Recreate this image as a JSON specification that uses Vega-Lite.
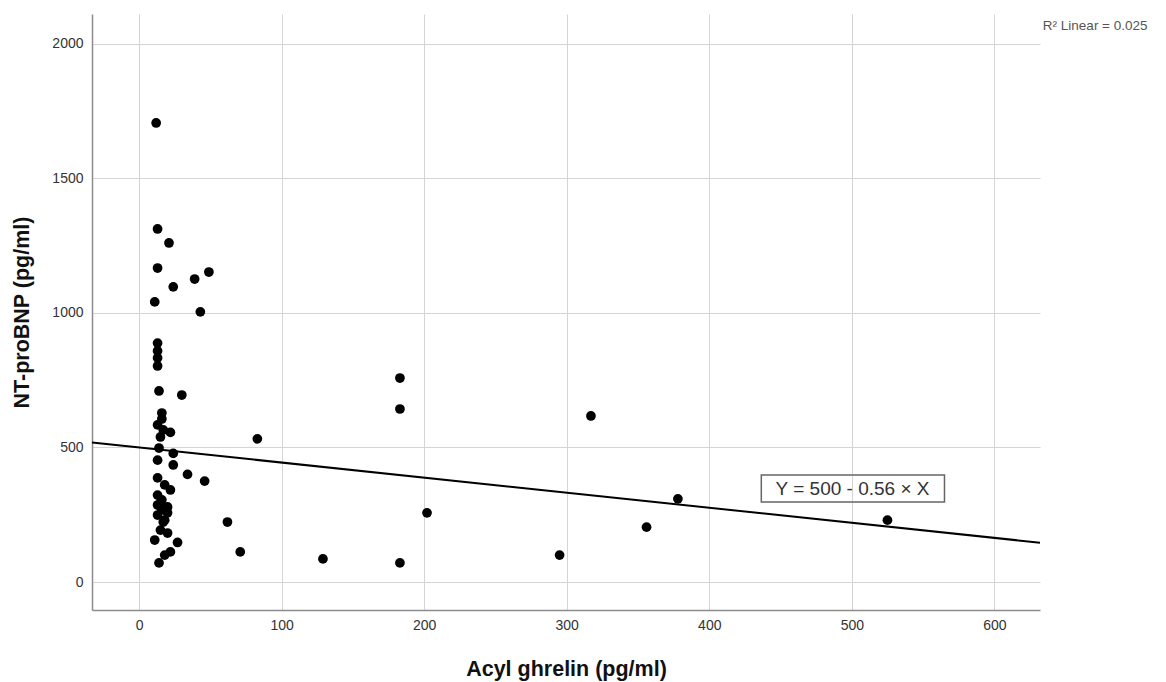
{
  "$schema": "https://vega.github.io/schema/vega-lite/v6.json",
  "width": 948,
  "height": 596,
  "autosize": {"type": "none"},
  "padding": {"left": 92, "top": 14, "right": 126, "bottom": 72},
  "background": "white",
  "config": {
    "view": {"stroke": null},
    "font": "Liberation Sans",
    "axis": {
      "gridColor": "#d4d4d4",
      "gridWidth": 1,
      "domainColor": "#8c8c8c",
      "domainWidth": 1.5,
      "ticks": false,
      "labelFont": "Liberation Sans",
      "labelFontSize": 14,
      "labelColor": "#333333",
      "titleFont": "Liberation Sans",
      "titleFontSize": 21.5,
      "titleFontWeight": "bold",
      "titleColor": "#111111"
    }
  },
  "datasets": {
    "pts": [
      {"ghrelin": 12, "ntprobnp": 1706},
      {"ghrelin": 13, "ntprobnp": 1312},
      {"ghrelin": 21, "ntprobnp": 1260},
      {"ghrelin": 13, "ntprobnp": 1167},
      {"ghrelin": 24, "ntprobnp": 1097},
      {"ghrelin": 11, "ntprobnp": 1041},
      {"ghrelin": 39, "ntprobnp": 1126},
      {"ghrelin": 49, "ntprobnp": 1152},
      {"ghrelin": 43, "ntprobnp": 1004},
      {"ghrelin": 13, "ntprobnp": 888},
      {"ghrelin": 13, "ntprobnp": 859},
      {"ghrelin": 13, "ntprobnp": 833},
      {"ghrelin": 13, "ntprobnp": 803},
      {"ghrelin": 14, "ntprobnp": 710},
      {"ghrelin": 30, "ntprobnp": 695},
      {"ghrelin": 16, "ntprobnp": 628},
      {"ghrelin": 16, "ntprobnp": 606},
      {"ghrelin": 13, "ntprobnp": 584},
      {"ghrelin": 17, "ntprobnp": 565},
      {"ghrelin": 22, "ntprobnp": 556},
      {"ghrelin": 15, "ntprobnp": 539},
      {"ghrelin": 14, "ntprobnp": 498},
      {"ghrelin": 24, "ntprobnp": 478},
      {"ghrelin": 13, "ntprobnp": 453},
      {"ghrelin": 24, "ntprobnp": 435},
      {"ghrelin": 46, "ntprobnp": 375},
      {"ghrelin": 34, "ntprobnp": 400},
      {"ghrelin": 83, "ntprobnp": 532},
      {"ghrelin": 183, "ntprobnp": 758},
      {"ghrelin": 183, "ntprobnp": 643},
      {"ghrelin": 317, "ntprobnp": 617},
      {"ghrelin": 378, "ntprobnp": 309},
      {"ghrelin": 356, "ntprobnp": 204},
      {"ghrelin": 525, "ntprobnp": 230},
      {"ghrelin": 202, "ntprobnp": 257},
      {"ghrelin": 295, "ntprobnp": 100},
      {"ghrelin": 129, "ntprobnp": 86},
      {"ghrelin": 183, "ntprobnp": 71},
      {"ghrelin": 71, "ntprobnp": 112},
      {"ghrelin": 62, "ntprobnp": 223},
      {"ghrelin": 13, "ntprobnp": 387},
      {"ghrelin": 18, "ntprobnp": 361},
      {"ghrelin": 22, "ntprobnp": 342},
      {"ghrelin": 13, "ntprobnp": 323},
      {"ghrelin": 16, "ntprobnp": 305},
      {"ghrelin": 15, "ntprobnp": 294},
      {"ghrelin": 13, "ntprobnp": 286},
      {"ghrelin": 20, "ntprobnp": 279},
      {"ghrelin": 16, "ntprobnp": 268},
      {"ghrelin": 20, "ntprobnp": 257},
      {"ghrelin": 13, "ntprobnp": 249},
      {"ghrelin": 18, "ntprobnp": 230},
      {"ghrelin": 17, "ntprobnp": 223},
      {"ghrelin": 15, "ntprobnp": 193},
      {"ghrelin": 20, "ntprobnp": 182},
      {"ghrelin": 11, "ntprobnp": 156},
      {"ghrelin": 27, "ntprobnp": 147},
      {"ghrelin": 22, "ntprobnp": 112},
      {"ghrelin": 18, "ntprobnp": 100},
      {"ghrelin": 14, "ntprobnp": 71}
    ],
    "fit": [
      {"ghrelin": -33, "ntprobnp": 518.5},
      {"ghrelin": 632, "ntprobnp": 146.1}
    ],
    "box": [
      {"x1": 436.5, "x2": 565, "y1": 297, "y2": 398, "xc": 500.5, "yc": 347, "label": "Y = 500 - 0.56 × X"}
    ],
    "r2": [
      {"x": 634, "y": 2068, "label": "R² Linear = 0.025"}
    ]
  },
  "layer": [
    {
      "data": {"name": "pts"},
      "mark": {"type": "point", "filled": true, "color": "black", "opacity": 1, "size": 95, "shape": "circle"},
      "encoding": {
        "x": {
          "field": "ghrelin", "type": "quantitative",
          "scale": {"domain": [-33, 632], "nice": false, "zero": false},
          "axis": {"values": [0, 100, 200, 300, 400, 500, 600], "format": "d", "title": "Acyl ghrelin (pg/ml)", "labelPadding": 8, "titlePadding": 26, "grid": true}
        },
        "y": {
          "field": "ntprobnp", "type": "quantitative",
          "scale": {"domain": [-104, 2111], "nice": false, "zero": false},
          "axis": {"values": [0, 500, 1000, 1500, 2000], "format": "d", "title": "NT-proBNP (pg/ml)", "labelPadding": 9, "titlePadding": 18, "grid": true}
        }
      }
    },
    {
      "data": {"name": "fit"},
      "mark": {"type": "line", "color": "black", "strokeWidth": 2, "clip": true},
      "encoding": {
        "x": {"field": "ghrelin", "type": "quantitative"},
        "y": {"field": "ntprobnp", "type": "quantitative"}
      }
    },
    {
      "data": {"name": "box"},
      "mark": {"type": "rect", "fill": null, "fillOpacity": 0, "stroke": "#666666", "strokeWidth": 1.5},
      "encoding": {
        "x": {"field": "x1", "type": "quantitative"},
        "x2": {"field": "x2"},
        "y": {"field": "y1", "type": "quantitative"},
        "y2": {"field": "y2"}
      }
    },
    {
      "data": {"name": "box"},
      "mark": {"type": "text", "fontSize": 19, "color": "#333333", "font": "Liberation Sans", "align": "center", "baseline": "middle"},
      "encoding": {
        "x": {"field": "xc", "type": "quantitative"},
        "y": {"field": "yc", "type": "quantitative"},
        "text": {"field": "label"}
      }
    },
    {
      "data": {"name": "r2"},
      "mark": {"type": "text", "fontSize": 13.5, "color": "#555555", "font": "Liberation Sans", "align": "left", "baseline": "middle", "clip": false},
      "encoding": {
        "x": {"field": "x", "type": "quantitative"},
        "y": {"field": "y", "type": "quantitative"},
        "text": {"field": "label"}
      }
    }
  ]
}
